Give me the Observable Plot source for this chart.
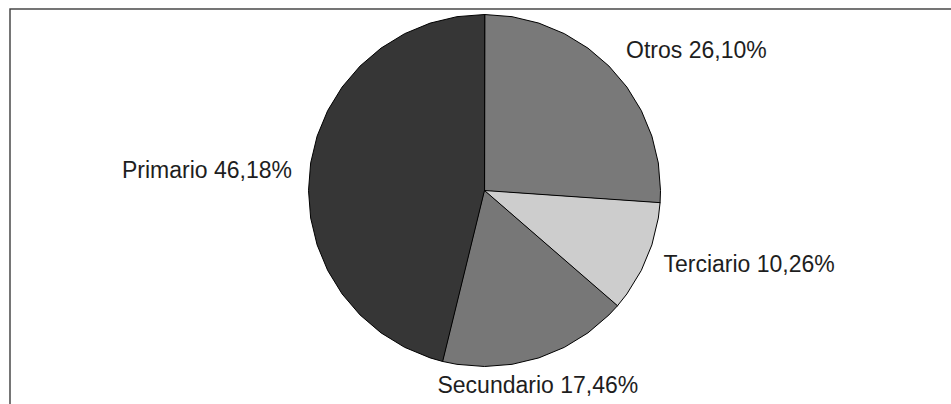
<!DOCTYPE html>
<html><head><meta charset="utf-8">
<script src="https://cdn.jsdelivr.net/npm/d3@7"></script>
<script src="https://cdn.jsdelivr.net/npm/@observablehq/plot@0.6"></script>
<style>body{margin:0;background:#fff}#chart svg{overflow:hidden;display:block}</style>
</head><body><div id="chart"></div>
<script>
// ---- data ----
const categories = ["Otros", "Terciario", "Secundario", "Primario"];
const shares = [26.10, 10.26, 17.46, 46.18];
const labelTexts = ["Otros 26,10%", "Terciario 10,26%", "Secundario 17,46%", "Primario 46,18%"];
const sliceColors = ["#797979", "#cdcdcd", "#777777", "#363636"];

// ---- layout (kept apart from the data) ----
const labelRadius = 1.1;
const labelAngleOverride = {Primario: 276, Secundario: 164};
const stepDeg = 9;

const total = d3.sum(shares);
let acc = 0;
const slices = categories.map((c, i) => {
  const a0 = acc / total * 360; acc += shares[i];
  const a1 = acc / total * 360;
  return {c, a0, a1, i};
});
const rad = d => d * Math.PI / 180;
const polyPts = [];
for (const s of slices) {
  polyPts.push({cat: s.c, x: 0, y: 0});
  const angles = [s.a0];
  for (let a = Math.ceil(s.a0 / stepDeg) * stepDeg; a < s.a1; a += stepDeg) if (a > s.a0) angles.push(a);
  angles.push(s.a1);
  for (const a of angles) polyPts.push({cat: s.c, x: Math.sin(rad(a)), y: Math.cos(rad(a))});
}
const labels = slices.map(s => {
  const a = labelAngleOverride[s.c] ?? (s.a0 + s.a1) / 2;
  const sn = Math.sin(rad(a)), cs = Math.cos(rad(a));
  return {
    text: labelTexts[s.i], x: labelRadius * sn, y: labelRadius * cs,
    anchor: sn > 0.35 ? "start" : sn < -0.35 ? "end" : "middle",
    line: cs > 0.5 ? "bottom" : cs < -0.5 ? "top" : "middle"
  };
});

const chart = Plot.plot({
  width: 951, height: 404, margin: 0,
  x: {domain: [-1, 1], range: [308, 660], axis: null},
  y: {domain: [-1, 1], range: [366, 14], axis: null},
  color: {domain: categories, range: sliceColors},
  style: {fontFamily: "Arial, 'Liberation Sans', sans-serif", background: "#fff"},
  marks: [
    Plot.frame({insetLeft: 9.5, insetTop: 8.5, insetRight: -6, insetBottom: -6, stroke: "#3c3c3c", strokeWidth: 1.4}),
    Plot.line(polyPts, {x: "x", y: "y", z: "cat", fill: "cat", stroke: "#000", strokeWidth: 1, curve: "linear-closed"}),
    ...labels.map(l => Plot.text([l], {
      x: "x", y: "y", text: "text", textAnchor: l.anchor, lineAnchor: l.line,
      fill: "#1e1e1e", fontSize: 23
    }))
  ]
});
document.getElementById("chart").append(chart);
</script>
</body></html>
